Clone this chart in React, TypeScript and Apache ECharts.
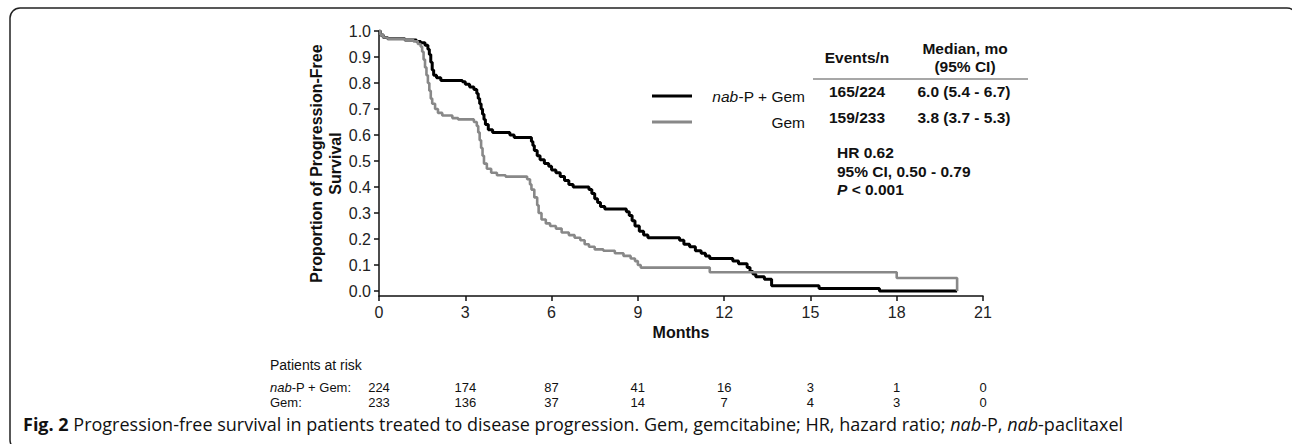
import React, { useEffect, useRef } from 'react';
import * as echarts from 'echarts';

// ---------------- data ----------------
const monthTicks = [0, 3, 6, 9, 12, 15, 18, 21];
const proportionTicks = [0, 0.1, 0.2, 0.3, 0.4, 0.5, 0.6, 0.7, 0.8, 0.9, 1.0];

const seriesNames = ['nab-P + Gem', 'Gem'];

// [months, proportion progression-free] (value after each step)
const nabPGemCurve: [number, number][] = [
  [0, 1.0], [0.05, 0.985], [0.15, 0.975], [0.3, 0.97], [0.9, 0.965], [1.3, 0.96],
  [1.45, 0.955], [1.6, 0.945], [1.7, 0.93], [1.75, 0.91], [1.8, 0.88], [1.85, 0.85],
  [1.9, 0.83], [2.0, 0.82], [2.15, 0.81], [2.9, 0.805], [3.0, 0.795], [3.15, 0.785],
  [3.3, 0.775], [3.4, 0.76], [3.45, 0.74], [3.5, 0.72], [3.55, 0.7], [3.6, 0.68],
  [3.65, 0.66], [3.7, 0.64], [3.8, 0.62], [3.95, 0.61], [4.55, 0.6], [4.7, 0.59],
  [5.3, 0.575], [5.35, 0.56], [5.4, 0.54], [5.5, 0.52], [5.6, 0.505], [5.75, 0.49],
  [5.9, 0.48], [6.0, 0.465], [6.15, 0.455], [6.3, 0.44], [6.45, 0.425], [6.6, 0.41],
  [6.75, 0.4], [7.3, 0.39], [7.4, 0.375], [7.5, 0.355], [7.6, 0.34], [7.7, 0.325],
  [7.85, 0.315], [8.6, 0.305], [8.7, 0.29], [8.8, 0.27], [8.9, 0.25], [9.05, 0.23],
  [9.2, 0.215], [9.35, 0.205], [10.45, 0.195], [10.6, 0.18], [10.8, 0.17], [11.0, 0.155],
  [11.2, 0.145], [11.35, 0.135], [11.5, 0.125], [12.3, 0.115], [12.5, 0.105], [12.8, 0.09],
  [12.9, 0.075], [13.0, 0.065], [13.1, 0.055], [13.4, 0.045], [13.65, 0.02], [15.3, 0.01],
  [17.4, 0.0], [20.1, 0.0],
];

const gemCurve: [number, number][] = [
  [0, 1.0], [0.05, 0.985], [0.15, 0.975], [0.3, 0.97], [0.9, 0.965], [1.2, 0.96],
  [1.35, 0.95], [1.45, 0.94], [1.5, 0.92], [1.55, 0.89], [1.6, 0.86], [1.65, 0.83],
  [1.7, 0.8], [1.75, 0.77], [1.8, 0.74], [1.85, 0.72], [1.95, 0.7], [2.05, 0.685],
  [2.2, 0.675], [2.55, 0.665], [2.75, 0.66], [3.3, 0.65], [3.4, 0.635], [3.45, 0.61],
  [3.5, 0.58], [3.55, 0.55], [3.6, 0.52], [3.65, 0.49], [3.75, 0.47], [3.9, 0.455],
  [4.1, 0.445], [4.4, 0.44], [5.15, 0.43], [5.25, 0.41], [5.3, 0.39], [5.4, 0.36],
  [5.5, 0.33], [5.55, 0.3], [5.65, 0.275], [5.8, 0.26], [5.95, 0.25], [6.15, 0.24],
  [6.35, 0.225], [6.6, 0.215], [6.8, 0.205], [7.0, 0.195], [7.15, 0.18], [7.3, 0.17],
  [7.5, 0.16], [7.8, 0.155], [8.2, 0.145], [8.5, 0.135], [8.75, 0.125], [8.9, 0.115],
  [9.0, 0.1], [9.1, 0.09], [11.5, 0.072], [18.0, 0.05], [20.1, 0.0],
];

const eventsHeader = 'Events/n';
const medianHeader = 'Median, mo\n(95% CI)';
const eventsPerN = ['165/224', '159/233'];
const medianCI = ['6.0 (5.4 - 6.7)', '3.8 (3.7 - 5.3)'];
const hazardLines = ['HR 0.62', '95% CI, 0.50 - 0.79', '< 0.001'];

const riskTitle = 'Patients at risk';
const riskRowLabels = ['nab-P + Gem:', 'Gem:'];
const riskNabPGem = [224, 174, 87, 41, 16, 3, 1, 0];
const riskGem = [233, 136, 37, 14, 7, 4, 3, 0];

const yAxisTitle = 'Proportion of Progression-Free\nSurvival';
const xAxisTitle = 'Months';
const captionLabel = 'Fig. 2';
const captionText =
  'Progression-free survival in patients treated to disease progression. Gem, gemcitabine; HR, hazard ratio; nab-P, nab-paclitaxel';

// ---------------- styling ----------------
const SANS = '"Liberation Sans", Arial, Helvetica, sans-serif';
const NARROW = '"Liberation Sans Narrow", "Arial Narrow", "Liberation Sans", Arial, sans-serif';
const CAP = '"Open Sans", "Noto Sans", sans-serif';
const INK = '#111';
const TABLE_FS = 15.5;
const RISK_FS = 13;

function italicNab(text: string, reg: string, ita: string) {
  return text
    .split(/(nab)(?=-)/)
    .filter((p) => p !== '')
    .map((p) => (p === 'nab' ? `{${ita}|nab}` : `{${reg}|${p}}`))
    .join('');
}

function tok(size: number, family: string, weight: string, style: string, extra: any = {}) {
  return { fontSize: size, fontFamily: family, fontWeight: weight, fontStyle: style, fill: INK, color: INK, ...extra };
}

export default function App() {
  const ref = useRef<HTMLDivElement>(null);

  useEffect(() => {
    if (!ref.current) return;
    const chart = echarts.init(ref.current, null, { renderer: 'svg' });

    const riskAxis = (values: number[], offset: number) => ({
      type: 'value',
      gridIndex: 0,
      min: 0,
      max: 21,
      interval: 3,
      position: 'bottom',
      offset,
      axisLine: { show: false, onZero: false },
      axisTick: { show: false },
      splitLine: { show: false },
      axisLabel: {
        margin: 0,
        fontSize: RISK_FS,
        lineHeight: 14,
        fontFamily: NARROW,
        color: INK,
        formatter: (v: number) => {
          const i = monthTicks.indexOf(v);
          return i >= 0 ? String(values[i]) : '';
        },
      },
    });

    const rowY = [91, 117];
    const tableTexts: any[] = [];
    seriesNames.forEach((_, i) => {
      tableTexts.push({
        type: 'text', x: 857, y: rowY[i], silent: true,
        style: { text: eventsPerN[i], ...tok(TABLE_FS, SANS, 'bold', 'normal'), align: 'center', verticalAlign: 'middle' },
      });
      tableTexts.push({
        type: 'text', x: 964, y: rowY[i], silent: true,
        style: { text: medianCI[i], ...tok(TABLE_FS, SANS, 'bold', 'normal'), align: 'center', verticalAlign: 'middle' },
      });
    });

    const riskRowY = [387, 402];

    const option: any = {
      animation: false,
      backgroundColor: '#ffffff',
      textStyle: { fontFamily: SANS },
      grid: { left: 379, right: 309, top: 31, bottom: 148, containLabel: false },
      legend: {
        data: seriesNames.map((n) => ({ name: n, icon: 'rect' })),
        orient: 'vertical',
        left: 647,
        top: 82,
        itemWidth: 40,
        itemHeight: 3,
        itemGap: 8,
        selectedMode: false,
        formatter: (name: string) => italicNab(name, 'rg', 'it'),
        textStyle: {
          fontSize: TABLE_FS,
          fontFamily: SANS,
          color: INK,
          width: 108,
          lineHeight: 18,
          rich: {
            it: { ...tok(TABLE_FS, SANS, 'normal', 'italic'), align: 'right' },
            rg: { ...tok(TABLE_FS, SANS, 'normal', 'normal'), align: 'right' },
          },
        },
      },
      xAxis: [
        {
          type: 'value',
          min: 0,
          max: 21,
          interval: 3,
          axisLine: { show: true, onZero: false, lineStyle: { color: INK, width: 1.5 } },
          axisTick: { show: true, length: 5, lineStyle: { color: INK, width: 1.5 } },
          axisLabel: { fontSize: 16, color: '#222', margin: 8, fontFamily: SANS },
          splitLine: { show: false },
          name: xAxisTitle,
          nameLocation: 'middle',
          nameGap: 20,
          nameTextStyle: { fontSize: 16, fontWeight: 'bold', color: INK, fontFamily: SANS, verticalAlign: 'top' },
        },
        riskAxis(riskNabPGem, riskRowY[0] - 296 - 7),
        riskAxis(riskGem, riskRowY[1] - 296 - 7),
      ],
      yAxis: {
        type: 'value',
        min: -0.0192,
        max: 1,
        axisLine: { show: true, onZero: false, lineStyle: { color: INK, width: 1.5 } },
        axisTick: { show: true, length: 5, customValues: proportionTicks, lineStyle: { color: INK, width: 1.5 } },
        axisLabel: {
          customValues: proportionTicks,
          formatter: (v: number) => v.toFixed(1),
          fontSize: 16,
          color: '#222',
          margin: 8,
          fontFamily: SANS,
        },
        splitLine: { show: false },
        name: yAxisTitle,
        nameLocation: 'middle',
        nameRotate: 90,
        nameGap: 33,
        nameTextStyle: { fontSize: 16, fontWeight: 'bold', color: INK, fontFamily: SANS, lineHeight: 19 },
      },
      series: [
        {
          type: 'line',
          name: seriesNames[0],
          data: nabPGemCurve,
          step: 'end',
          symbol: 'none',
          showSymbol: false,
          color: '#000',
          itemStyle: { color: '#000' },
          lineStyle: { color: '#000', width: 3 },
          z: 2,
        },
        {
          type: 'line',
          name: seriesNames[1],
          data: gemCurve,
          step: 'end',
          symbol: 'none',
          showSymbol: false,
          color: '#888',
          itemStyle: { color: '#888' },
          lineStyle: { color: '#888', width: 2.6 },
          z: 3,
        },
      ],
      graphic: [
        {
          type: 'rect', silent: true, z: -10,
          shape: { x: 10, y: 8, width: 1287, height: 442, r: 10 },
          style: { fill: 'none', stroke: '#222', lineWidth: 1.5 },
        },
        {
          type: 'text', x: 857, y: 57, silent: true,
          style: { text: eventsHeader, ...tok(TABLE_FS, SANS, 'bold', 'normal'), align: 'center', verticalAlign: 'middle' },
        },
        {
          type: 'text', x: 965, y: 57, silent: true,
          style: { text: medianHeader, ...tok(TABLE_FS, SANS, 'bold', 'normal'), lineHeight: 18, align: 'center', verticalAlign: 'middle' },
        },
        {
          type: 'line', silent: true,
          shape: { x1: 813, y1: 79, x2: 1028, y2: 79 },
          style: { stroke: '#8a8a8a', lineWidth: 1.5 },
        },
        ...tableTexts,
        {
          type: 'text', x: 837, y: 171, silent: true,
          style: {
            text: `{b|${hazardLines[0]}}\n{b|${hazardLines[1]}}\n{bi|P}{b| ${hazardLines[2]}}`,
            ...tok(TABLE_FS, SANS, 'bold', 'normal'),
            lineHeight: 18.5,
            align: 'left',
            verticalAlign: 'middle',
            rich: {
              b: tok(TABLE_FS, SANS, 'bold', 'normal', { lineHeight: 18.5 }),
              bi: tok(TABLE_FS, SANS, 'bold', 'italic', { lineHeight: 18.5 }),
            },
          },
        },
        {
          type: 'text', x: 270, y: 365, silent: true,
          style: { text: riskTitle, ...tok(14, NARROW, 'normal', 'normal'), align: 'left', verticalAlign: 'middle' },
        },
        ...riskRowLabels.map((lab, i) => ({
          type: 'text', x: 270, y: riskRowY[i], silent: true,
          style: {
            text: italicNab(lab, 'r', 'i'),
            ...tok(RISK_FS, NARROW, 'normal', 'normal'),
            lineHeight: 14,
            align: 'left',
            verticalAlign: 'middle',
            rich: {
              r: tok(RISK_FS, NARROW, 'normal', 'normal', { lineHeight: 14 }),
              i: tok(RISK_FS, NARROW, 'normal', 'italic', { lineHeight: 14 }),
            },
          },
        })),
        {
          type: 'text', x: 23, y: 424, silent: true,
          style: {
            text: `{fb|${captionLabel}} ` + italicNab(captionText, 'f', 'fi'),
            ...tok(18, CAP, 'normal', 'normal'),
            align: 'left',
            verticalAlign: 'middle',
            rich: {
              fb: tok(18, CAP, 'bold', 'normal'),
              f: tok(18, CAP, 'normal', 'normal'),
              fi: tok(18, CAP, 'normal', 'italic'),
            },
          },
        },
      ],
    };

    chart.setOption(option);
    return () => chart.dispose();
  }, []);

  return (
    <div
      ref={ref}
      style={{ position: 'absolute', left: 0, top: 0, width: 1292, height: 444, background: '#fff' }}
    />
  );
}
